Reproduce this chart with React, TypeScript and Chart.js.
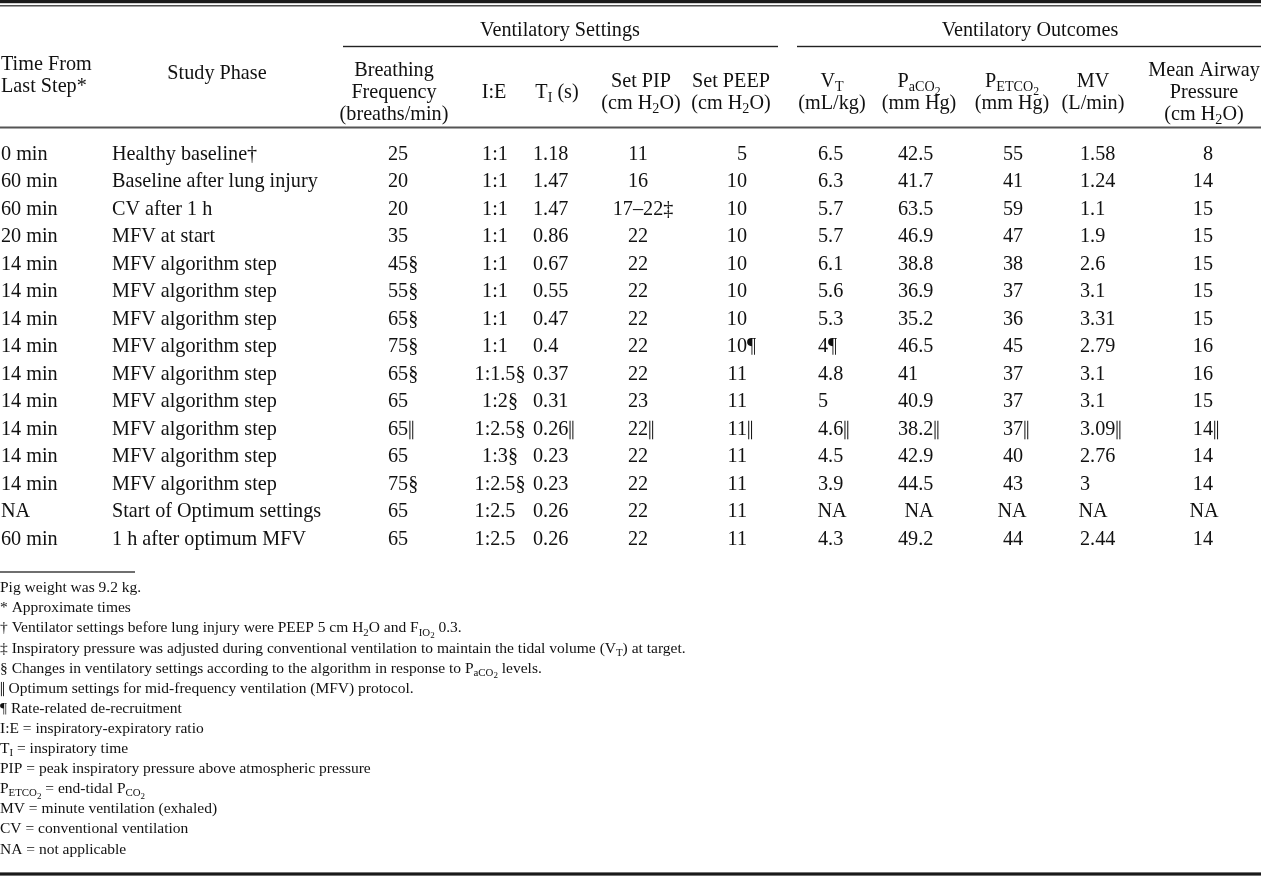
import React, { useEffect, useRef } from "react";
import { Chart, registerables } from "chart.js";

Chart.register(...registerables);

// ---------------- data ----------------
const timeFromLastStep = ["0 min", "60 min", "60 min", "20 min", "14 min", "14 min", "14 min", "14 min", "14 min", "14 min", "14 min", "14 min", "14 min", "NA", "60 min"];
const studyPhase = ["Healthy baseline†", "Baseline after lung injury", "CV after 1 h", "MFV at start", "MFV algorithm step", "MFV algorithm step", "MFV algorithm step", "MFV algorithm step", "MFV algorithm step", "MFV algorithm step", "MFV algorithm step", "MFV algorithm step", "MFV algorithm step", "Start of Optimum settings", "1 h after optimum MFV"];
const breathingFrequency = ["25", "20", "20", "35", "45§", "55§", "65§", "75§", "65§", "65", "65‖", "65", "75§", "65", "65"];
const ieRatio = ["1:1", "1:1", "1:1", "1:1", "1:1", "1:1", "1:1", "1:1", "1:1.5§", "1:2§", "1:2.5§", "1:3§", "1:2.5§", "1:2.5", "1:2.5"];
const inspiratoryTime = ["1.18", "1.47", "1.47", "0.86", "0.67", "0.55", "0.47", "0.4", "0.37", "0.31", "0.26‖", "0.23", "0.23", "0.26", "0.26"];
const setPIP = ["11", "16", "17–22‡", "22", "22", "22", "22", "22", "22", "23", "22‖", "22", "22", "22", "22"];
const setPEEP = ["5", "10", "10", "10", "10", "10", "10", "10¶", "11", "11", "11‖", "11", "11", "11", "11"];
const tidalVolume = ["6.5", "6.3", "5.7", "5.7", "6.1", "5.6", "5.3", "4¶", "4.8", "5", "4.6‖", "4.5", "3.9", "NA", "4.3"];
const paCO2 = ["42.5", "41.7", "63.5", "46.9", "38.8", "36.9", "35.2", "46.5", "41", "40.9", "38.2‖", "42.9", "44.5", "NA", "49.2"];
const petCO2 = ["55", "41", "59", "47", "38", "37", "36", "45", "37", "37", "37‖", "40", "43", "NA", "44"];
const minuteVentilation = ["1.58", "1.24", "1.1", "1.9", "2.6", "3.1", "3.31", "2.79", "3.1", "3.1", "3.09‖", "2.76", "3", "NA", "2.44"];
const meanAirwayPressure = ["8", "14", "15", "15", "15", "15", "15", "16", "16", "15", "14‖", "14", "14", "NA", "14"];

const groupHeaders = ["Ventilatory Settings", "Ventilatory Outcomes"];
const columnHeaders = [
  ["Time From", "Last Step*"],
  ["Study Phase"],
  ["Breathing", "Frequency", "(breaths/min)"],
  ["I:E"],
  ["T_{I} (s)"],
  ["Set PIP", "(cm H_{2}O)"],
  ["Set PEEP", "(cm H_{2}O)"],
  ["V_{T}", "(mL/kg)"],
  ["P_{aCO_{2}}", "(mm Hg)"],
  ["P_{ETCO_{2}}", "(mm Hg)"],
  ["MV", "(L/min)"],
  ["Mean Airway", "Pressure", "(cm H_{2}O)"],
];
const footnotes = [
  "Pig weight was 9.2 kg.",
  "* Approximate times",
  "† Ventilator settings before lung injury were PEEP 5 cm H_{2}O and F_{IO_{2}} 0.3.",
  "‡ Inspiratory pressure was adjusted during conventional ventilation to maintain the tidal volume (V_{T}) at target.",
  "§ Changes in ventilatory settings according to the algorithm in response to P_{aCO_{2}} levels.",
  "‖ Optimum settings for mid-frequency ventilation (MFV) protocol.",
  "¶ Rate-related de-recruitment",
  "I:E = inspiratory-expiratory ratio",
  "T_{I} = inspiratory time",
  "PIP = peak inspiratory pressure above atmospheric pressure",
  "P_{ETCO_{2}} = end-tidal P_{CO_{2}}",
  "MV = minute ventilation (exhaled)",
  "CV = conventional ventilation",
  "NA = not applicable",
];

const columnValues = [timeFromLastStep, studyPhase, breathingFrequency, ieRatio, inspiratoryTime, setPIP, setPEEP, tidalVolume, paCO2, petCO2, minuteVentilation, meanAirwayPressure];

// ---------------- layout ----------------
const W = 1261;
const H = 876;
const FONT = '"Liberation Serif", "Times New Roman", serif';
const FS = 20.2;
const FOOT_FS = 15.5;
const ROW_TOP = 153;
const ROW_STEP = 27.5;
const INK = "#111";

type Align = "left" | "center" | "right";
// data anchor, data alignment, header anchor, header alignment
const colLayout: { x: number; align: Align; hx: number; halign: Align }[] = [
  { x: 1, align: "left", hx: 1, halign: "left" },
  { x: 112, align: "left", hx: 217, halign: "center" },
  { x: 388, align: "left", hx: 394, halign: "center" },
  { x: 495, align: "center", hx: 494, halign: "center" },
  { x: 533, align: "left", hx: 557, halign: "center" },
  { x: 638, align: "center", hx: 641, halign: "center" },
  { x: 747, align: "right", hx: 731, halign: "center" },
  { x: 818, align: "left", hx: 832, halign: "center" },
  { x: 898, align: "left", hx: 919, halign: "center" },
  { x: 1003, align: "left", hx: 1012, halign: "center" },
  { x: 1080, align: "left", hx: 1093, halign: "center" },
  { x: 1213, align: "right", hx: 1204, halign: "center" },
];
const groupLayout = [
  { cx: 560, x0: 343, x1: 778 },
  { cx: 1030, x0: 797, x1: 1261 },
];

// ---------------- rich text ----------------
type Seg = { t: string; lvl: number };
function parseRich(s: string): Seg[] {
  const out: Seg[] = [];
  let lvl = 0;
  let buf = "";
  for (let i = 0; i < s.length; i++) {
    const c = s[i];
    if (c === "_" && s[i + 1] === "{") {
      if (buf) out.push({ t: buf, lvl });
      buf = "";
      lvl++;
      i++;
    } else if (c === "}" && lvl > 0) {
      if (buf) out.push({ t: buf, lvl });
      buf = "";
      lvl--;
    } else buf += c;
  }
  if (buf) out.push({ t: buf, lvl });
  return out;
}
const SUB_SCALE = [1, 0.7, 0.58];
const SUB_DROP = [0, 0.2, 0.36];

// split a run so that the double-bar mark is drawn as two tall thin strokes
function pieces(t: string): string[] {
  return t.split(/(‖)/).filter((p) => p.length > 0);
}
function pieceWidth(ctx: CanvasRenderingContext2D, p: string, fs: number) {
  return p === "‖" ? fs * 0.3 : ctx.measureText(p).width;
}
function richWidth(ctx: CanvasRenderingContext2D, s: string, fs: number) {
  let w = 0;
  for (const seg of parseRich(s)) {
    const f = fs * SUB_SCALE[Math.min(seg.lvl, 2)];
    ctx.font = `${f}px ${FONT}`;
    for (const p of pieces(seg.t)) w += pieceWidth(ctx, p, f);
  }
  return w;
}
function drawRich(ctx: CanvasRenderingContext2D, s: string, x: number, yc: number, fs: number, align: Align) {
  const w = richWidth(ctx, s, fs);
  let cx = align === "left" ? x : align === "center" ? x - w / 2 : x - w;
  const base = yc + fs * 0.34;
  ctx.textAlign = "left";
  ctx.textBaseline = "alphabetic";
  for (const seg of parseRich(s)) {
    const l = Math.min(seg.lvl, 2);
    const f = fs * SUB_SCALE[l];
    ctx.font = `${f}px ${FONT}`;
    const by = base + SUB_DROP[l] * fs;
    for (const p of pieces(seg.t)) {
      if (p === "‖") {
        const lw = Math.max(0.9, f * 0.05);
        ctx.fillRect(cx + f * 0.06, by - f * 0.7, lw, f * 0.92);
        ctx.fillRect(cx + f * 0.06 + f * 0.14, by - f * 0.7, lw, f * 0.92);
      } else {
        ctx.fillText(p, cx, by);
      }
      cx += pieceWidth(ctx, p, f);
    }
  }
  return w;
}
function hline(ctx: CanvasRenderingContext2D, x0: number, x1: number, y: number, lw: number, color: string) {
  const prev = ctx.fillStyle;
  ctx.fillStyle = color;
  ctx.fillRect(x0, y - lw / 2, x1 - x0, lw);
  ctx.fillStyle = prev;
}

const MARKS = /[†‡§‖¶]+$/;

const tablePlugin = {
  id: "tableDraw",
  beforeDraw(chart: any) {
    const ctx: CanvasRenderingContext2D = chart.ctx;
    ctx.save();
    ctx.fillStyle = "#fff";
    ctx.fillRect(0, 0, W, H);
    ctx.restore();
  },
  afterDraw(chart: any) {
    const ctx: CanvasRenderingContext2D = chart.ctx;
    const xs = chart.scales.x;
    const ys = chart.scales.y;
    ctx.save();

    // rules
    hline(ctx, 0, W, 1.6, 3.2, "#1a1a1a");
    hline(ctx, 0, W, 5.8, 1.3, "#333");
    groupLayout.forEach((g) => hline(ctx, xs.getPixelForValue(g.x0), xs.getPixelForValue(g.x1), 46.5, 1.4, "#222"));
    hline(ctx, 0, W, 127.5, 2, "#555");
    hline(ctx, 0, 135, 572, 1.3, "#222");
    hline(ctx, 0, W, 874, 3.2, "#1a1a1a");

    ctx.fillStyle = INK;
    // group headers
    groupHeaders.forEach((t, i) => drawRich(ctx, t, xs.getPixelForValue(groupLayout[i].cx), 29, FS, "center"));

    // column headers
    columnHeaders.forEach((lines, ci) => {
      const hx = xs.getPixelForValue(colLayout[ci].hx);
      let ys0: number[];
      if (ci === 0) ys0 = [63, 85];
      else if (ci === 1) ys0 = [72];
      else if (lines.length === 3) ys0 = [69.5, 91.5, 113];
      else if (lines.length === 2) ys0 = [80.5, 102];
      else ys0 = [91.5];
      lines.forEach((ln, li) => drawRich(ctx, ln, hx, ys0[li], FS, colLayout[ci].halign));
    });

    // body
    columnValues.forEach((vals, ci) => {
      const lay = colLayout[ci];
      vals.forEach((v, ri) => {
        const y = ys.getPixelForValue(ri);
        if (v === "NA" && ci > 1) {
          drawRich(ctx, v, xs.getPixelForValue(lay.hx), y, FS, "center");
          return;
        }
        const m = v.match(MARKS);
        const mark = m ? m[0] : "";
        const base = mark ? v.slice(0, v.length - mark.length) : v;
        ctx.font = `${FS}px ${FONT}`;
        const bw = ctx.measureText(base).width;
        const ax = xs.getPixelForValue(lay.x);
        const x0 = lay.align === "left" ? ax : lay.align === "center" ? ax - bw / 2 : ax - bw;
        drawRich(ctx, base + mark, x0, y, FS, "left");
      });
    });

    // footnotes
    footnotes.forEach((f, i) => drawRich(ctx, f, 0, 587 + i * 20.1, FOOT_FS, "left"));

    ctx.restore();
  },
};

export default function App() {
  const ref = useRef<HTMLCanvasElement | null>(null);
  useEffect(() => {
    document.body.style.margin = "0";
    const yMin = -ROW_TOP / ROW_STEP;
    const yMax = yMin + H / ROW_STEP;
    const chart = new Chart(ref.current as HTMLCanvasElement, {
      type: "scatter",
      data: { datasets: [] },
      options: {
        responsive: false,
        animation: false,
        devicePixelRatio: 1,
        layout: { padding: 0 },
        plugins: { legend: { display: false }, tooltip: { enabled: false } },
        scales: {
          x: { type: "linear", display: false, min: 0, max: W },
          y: { type: "linear", display: false, reverse: true, min: yMin, max: yMax },
        },
      },
      plugins: [tablePlugin],
    } as any);
    return () => chart.destroy();
  }, []);
  return <canvas ref={ref} width={W} height={H} style={{ display: "block" }} />;
}
